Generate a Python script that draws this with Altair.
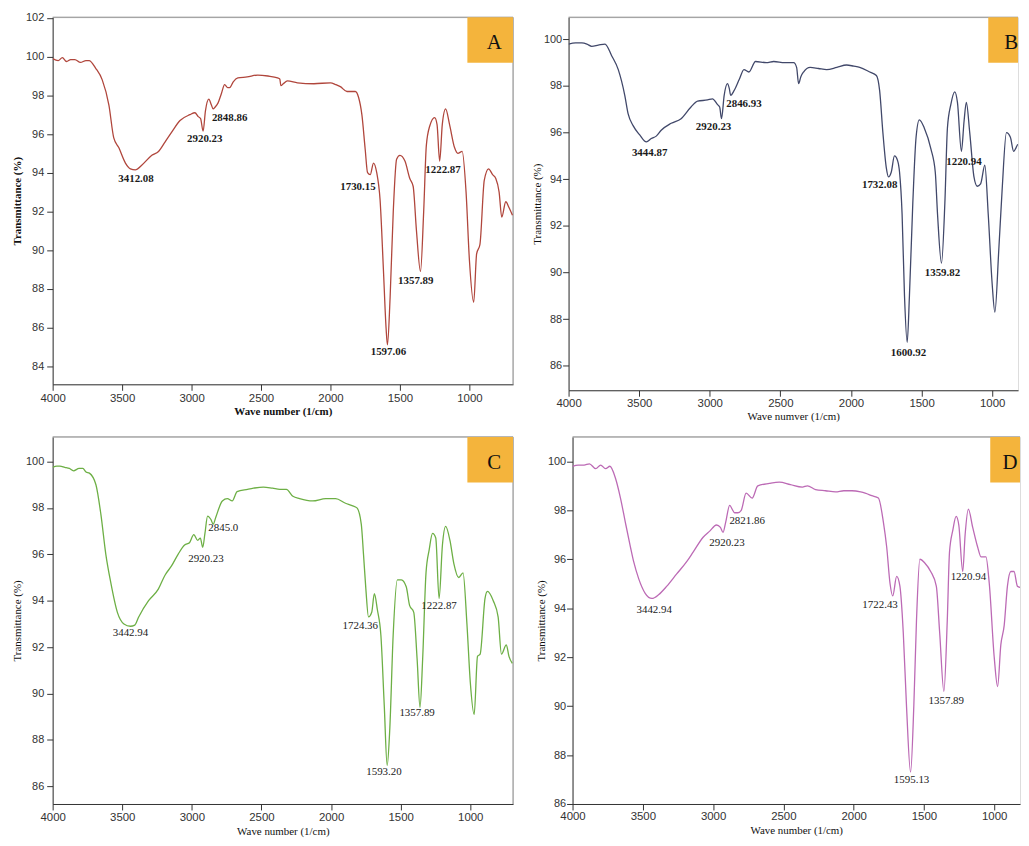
import math
import altair as alt
import pandas as pd

SERIF = "Liberation Serif"
SANS = "Liberation Sans"

# ---------------- Panel A ----------------
A_wn = [4000, 3960, 3930, 3900, 3870, 3840, 3800, 3760, 3738, 3690, 3643, 3595, 3560, 3524, 3476, 3440, 3405,
        3357, 3286, 3238, 3190, 3143, 3083, 3012, 2976, 2952, 2935, 2917, 2900, 2876, 2857, 2845, 2830, 2810,
        2785, 2762, 2740, 2726, 2700, 2667, 2600, 2524, 2450, 2381, 2365, 2357, 2340, 2310, 2238, 2119, 2000,
        1960, 1929, 1881, 1821, 1798, 1774, 1750, 1733, 1714, 1690, 1667, 1643, 1619, 1600, 1590, 1571, 1548,
        1524, 1500, 1464, 1429, 1405, 1381, 1352, 1329, 1310, 1286, 1250, 1233, 1214, 1195, 1171, 1143, 1107,
        1083, 1052, 1024, 1000, 969, 948, 924, 893, 862, 833, 810, 786, 767, 738, 715, 690]
A_T = [99.9, 99.8, 99.95, 99.75, 99.85, 99.85, 99.7, 99.8, 99.8, 99.4, 98.8, 97.5, 95.8, 95.3, 94.5, 94.2, 94.15,
       94.4, 94.9, 95.1, 95.6, 96.1, 96.7, 97.0, 97.1, 96.9, 96.8, 96.15, 97.2, 97.8, 97.5, 97.3, 97.4, 97.6,
       98.1, 98.55, 98.4, 98.4, 98.7, 98.9, 98.95, 99.05, 99.0, 98.9, 98.85, 98.5, 98.6, 98.75, 98.65, 98.6, 98.65,
       98.55, 98.45, 98.2, 98.2, 97.9, 97.0, 95.2, 94.0, 93.9, 94.5, 94.0, 92.6, 89.0, 86.0, 85.1, 87.5, 92.0,
       94.7, 94.9, 94.6, 93.7, 93.3, 91.0, 88.9, 92.0, 95.4, 96.4, 96.85, 96.5, 94.6, 96.5, 97.3, 96.5, 95.3,
       95.0, 95.1, 93.0, 89.5, 87.3, 89.8, 90.3, 93.6, 94.2, 93.9, 93.7, 93.0, 91.7, 92.5, 92.2, 91.8]
A_lab = ["3412.08", "2920.23", "2848.86", "1730.15", "1597.06", "1357.89", "1222.87"]
A_lab_wn = [3400, 2905, 2726, 1802, 1583, 1386, 1190]
A_lab_T = [93.67, 95.73, 96.84, 93.28, 84.74, 88.41, 94.15]

# ---------------- Panel B ----------------
B_wn = [4000, 3950, 3906, 3870, 3836, 3790, 3742, 3695, 3648, 3602, 3578, 3543, 3496, 3449, 3414, 3379, 3344,
        3273, 3203, 3133, 3086, 3016, 2981, 2945, 2930, 2917, 2898, 2875, 2862, 2852, 2828, 2790, 2758, 2723,
        2676, 2600, 2547, 2470, 2406, 2385, 2371, 2355, 2336, 2289, 2230, 2172, 2100, 2031, 1980, 1938, 1867,
        1820, 1797, 1774, 1750, 1734, 1715, 1692, 1670, 1656, 1638, 1621, 1602, 1586, 1562, 1539, 1516, 1481,
        1434, 1403, 1387, 1359, 1335, 1317, 1293, 1265, 1246, 1218, 1199, 1183, 1159, 1129, 1106, 1082, 1052,
        1028, 1000, 981, 953, 930, 899, 871, 848, 835, 817, 789, 766]
B_T = [99.8, 99.85, 99.85, 99.8, 99.7, 99.75, 99.8, 99.3, 98.7, 97.6, 96.8, 96.3, 95.9, 95.6, 95.75, 95.85, 96.1,
       96.4, 96.6, 97.1, 97.35, 97.4, 97.45, 97.2, 97.1, 96.6, 97.6, 98.1, 97.9, 97.6, 97.8, 98.3, 98.7, 98.6,
       99.05, 99.0, 99.05, 99.0, 99.0, 98.8, 98.1, 98.4, 98.6, 98.8, 98.75, 98.7, 98.8, 98.9, 98.85, 98.8, 98.6,
       98.45, 97.8, 96.0, 94.5, 94.1, 94.3, 95.0, 94.8, 94.3, 92.5, 89.0, 87.0, 89.0, 93.0, 95.8, 96.55, 96.2,
       95.3, 94.3, 92.5, 90.4, 93.0, 96.2, 97.2, 97.75, 97.3, 95.2, 96.5, 97.3, 96.0, 94.1, 93.7, 93.8, 94.6,
       92.5, 89.5, 88.3, 91.0, 93.5, 96.0, 95.8, 95.2, 95.3, 95.5, 95.0, 94.2]
B_lab = ["3444.87", "2920.23", "2846.93", "1732.08", "1600.92", "1359.82", "1220.94"]
B_lab_wn = [3426, 2973, 2758, 1797, 1593, 1352, 1200]
B_lab_T = [95.12, 96.24, 97.21, 93.76, 86.54, 89.97, 94.75]

# ---------------- Panel C ----------------
C_wn = [4000, 3970, 3948, 3913, 3880, 3850, 3810, 3783, 3760, 3736, 3689, 3653, 3618, 3583, 3535, 3488, 3441,
        3410, 3382, 3311, 3241, 3193, 3146, 3099, 3052, 3017, 2986, 2958, 2939, 2922, 2906, 2887, 2863, 2847,
        2828, 2781, 2745, 2710, 2675, 2600, 2557, 2486, 2420, 2368, 2321, 2274, 2226, 2132, 2038, 1967, 1896,
        1849, 1814, 1783, 1767, 1750, 1731, 1708, 1689, 1667, 1642, 1618, 1597, 1578, 1554, 1524, 1495, 1460,
        1436, 1406, 1382, 1361, 1342, 1318, 1295, 1271, 1248, 1224, 1200, 1177, 1146, 1118, 1083, 1052, 1024,
        1000, 972, 948, 929, 894, 877, 835, 800, 776, 741, 722, 698]
C_T = [99.75, 99.8, 99.8, 99.75, 99.7, 99.6, 99.7, 99.7, 99.55, 99.5, 99.0, 97.7, 96.0, 94.8, 93.5, 93.0, 92.9,
       92.95, 93.3, 94.0, 94.5, 95.1, 95.5, 96.0, 96.4, 96.5, 96.85, 96.6, 96.7, 96.3, 96.9, 97.65, 97.5, 97.3,
       97.6, 98.3, 98.4, 98.3, 98.7, 98.8, 98.85, 98.9, 98.85, 98.8, 98.8, 98.5, 98.4, 98.3, 98.4, 98.4, 98.2,
       98.1, 98.0, 97.3, 96.0, 94.5, 93.3, 93.5, 94.3, 93.6, 92.5, 89.5, 86.9, 88.5, 92.5, 94.9, 94.9, 94.6,
       93.8, 93.5, 91.5, 89.4, 91.5, 95.2, 96.2, 96.9, 96.7, 94.1, 96.4, 97.2, 96.6, 95.6, 95.0, 95.2, 93.0,
       90.5, 89.1, 91.6, 91.7, 94.1, 94.4, 94.0, 93.3, 91.7, 92.1, 91.6, 91.3]
C_lab = ["3442.94", "2920.23", "2845.0", "1724.36", "1593.20", "1357.89", "1222.87"]
C_lab_wn = [3441, 2899, 2774, 1790, 1620, 1382, 1224]
C_lab_T = [92.6, 95.81, 97.15, 92.91, 86.6, 89.14, 93.77]

# ---------------- Panel D ----------------
D_wn = [4000, 3960, 3918, 3880, 3835, 3800, 3765, 3734, 3694, 3659, 3624, 3588, 3565, 3529, 3482, 3435, 3388,
        3329, 3259, 3188, 3141, 3071, 3024, 2976, 2948, 2929, 2911, 2882, 2860, 2847, 2824, 2800, 2765, 2722,
        2682, 2600, 2529, 2450, 2365, 2329, 2271, 2200, 2129, 2070, 2012, 1950, 1918, 1871, 1824, 1788, 1765,
        1741, 1722, 1694, 1671, 1647, 1624, 1595, 1572, 1553, 1529, 1494, 1452, 1412, 1388, 1358, 1334, 1318,
        1294, 1271, 1252, 1224, 1207, 1184, 1153, 1118, 1094, 1059, 1035, 1000, 976, 953, 929, 906, 882, 859,
        835, 800, 776, 765]
D_T = [99.8, 99.85, 99.85, 99.9, 99.7, 99.85, 99.7, 99.8, 99.3, 98.5, 97.5, 96.5, 95.9, 95.2, 94.6, 94.4, 94.55,
       94.9, 95.4, 95.9, 96.3, 96.9, 97.15, 97.4, 97.3, 97.1, 97.5, 98.2, 98.0, 97.9, 97.9, 98.0, 98.7, 98.5,
       99.0, 99.1, 99.15, 99.05, 98.95, 99.0, 98.85, 98.8, 98.75, 98.8, 98.8, 98.75, 98.7, 98.6, 98.5, 97.5, 96.5,
       95.0, 94.5, 95.3, 94.9, 93.0, 90.0, 87.3, 90.0, 93.5, 96.0, 95.85, 95.5, 94.9, 93.0, 90.6, 93.5, 96.3,
       97.2, 97.75, 97.4, 95.5, 97.0, 98.05, 97.3, 96.5, 96.1, 96.1, 95.0, 92.0, 90.8, 92.5, 93.3, 94.9, 95.5, 95.5,
       94.9, 94.8, 93.8, 93.3]
D_lab = ["3442.94", "2920.23", "2821.86", "1722.43", "1595.13", "1357.89", "1220.94"]
D_lab_wn = [3419, 2901, 2758, 1812, 1588, 1341, 1184]
D_lab_T = [93.94, 96.66, 97.55, 94.12, 86.96, 90.2, 95.29]

BOX = "#F4B43C"


def make_panel(wn, tr, labs, lab_wn, lab_t, color, letter, xdom, ydom, w, h, bold, anno_bold,
               xtitle, ytitle, right_frame, box_w, letter_x,
               ytitle_pad, ylabel_pad, xtitle_pad, xlabel_pad, anno_size):
    weight = "bold" if bold else "normal"
    df = pd.DataFrame({"wn": wn, "T": tr})
    pk = pd.DataFrame({"wn": lab_wn, "T": lab_t, "label": labs})
    one = pd.DataFrame({"k": [0]})
    xvals = [v for v in range(4000, 600, -250) if min(xdom) <= v <= max(xdom)]
    y0 = int(math.ceil(ydom[0]))
    if y0 % 2:
        y0 += 1  # start on an even (labelled) value
    yvals = [v for v in range(y0, 104) if v <= ydom[1]]
    xs = alt.Scale(domain=xdom, nice=False, zero=False)
    ys = alt.Scale(domain=ydom, nice=False, zero=False)
    x_axis = alt.Axis(
        values=xvals, format="d",
        labelExpr="datum.value % 500 === 0 ? datum.label : ''",
        labelFlush=False, labelOverlap=False, grid=False,
        tickSize={"condition": {"test": "datum.value % 500 === 0", "value": 6}, "value": 4},
        tickColor="#333", domainColor="#333", tickWidth=1, domainWidth=1,
        labelFont=SANS, labelFontSize=11.5, labelColor="#333", labelPadding=xlabel_pad,
        title=xtitle, titleFont=SERIF, titleFontSize=11, titleFontWeight=weight,
        titleColor="#111", titlePadding=xtitle_pad)
    y_axis = alt.Axis(
        values=yvals, format="d",
        labelExpr="datum.value % 2 === 0 ? datum.label : ''",
        labelFlush=False, labelOverlap=False, grid=False,
        tickSize={"condition": {"test": "datum.value % 2 === 0", "value": 6}, "value": 3},
        tickColor="#333", domainColor="#333", tickWidth=1, domainWidth=1,
        labelFont=SANS, labelFontSize=11, labelColor="#333", labelPadding=ylabel_pad,
        title=ytitle, titleFont=SERIF, titleFontSize=11, titleFontWeight=weight,
        titleColor="#111", titlePadding=ytitle_pad)

    line = alt.Chart(df).mark_line(color=color, strokeWidth=1.3, clip=True,
                                   interpolate="monotone").encode(
        x=alt.X("wn:Q", scale=xs, axis=x_axis),
        y=alt.Y("T:Q", scale=ys, axis=y_axis),
    )
    text = alt.Chart(pk).mark_text(font=SERIF, fontSize=anno_size,
                                   fontWeight="bold" if anno_bold else "normal",
                                   color="#1a1a1a", align="center", baseline="middle").encode(
        x=alt.X("wn:Q", scale=xs), y=alt.Y("T:Q", scale=ys), text="label:N")
    top_rule = alt.Chart(one).mark_rule(color="#8a8a8a", strokeWidth=1).encode(
        x=alt.value(0), x2=alt.value(w), y=alt.value(0))
    layers = [top_rule]
    if right_frame:
        layers.append(alt.Chart(one).mark_rule(color="#8a8a8a", strokeWidth=1).encode(
            x=alt.value(w), y=alt.value(0), y2=alt.value(h)))
    box = alt.Chart(one).mark_rect(color=BOX).encode(
        x=alt.value(w - box_w), x2=alt.value(w), y=alt.value(0), y2=alt.value(46))
    let = alt.Chart(one).mark_text(font=SERIF, fontSize=21, color="#111",
                                   align="center", baseline="middle").encode(
        x=alt.value(letter_x), y=alt.value(26), text=alt.value(letter))
    layers += [line, text, box, let]
    return alt.layer(*layers).properties(width=w, height=h)


pA = make_panel(A_wn, A_T, A_lab, A_lab_wn, A_lab_T, "#B0463C", "A",
                [4000, 686], [83.06, 102.04], 464, 370, True, True,
                "Wave number (1/cm)", "Transmittance (%)", True, 46, 445,
                3, 3, 2, 2, 11)
pB = make_panel(B_wn, B_T, B_lab, B_lab_wn, B_lab_T, "#41486A", "B",
                [4000, 817], [84.95, 100.95], 453, 376, False, True,
                "Wave numver (1/cm)", "Transmittance (%)", False, 30, 446,
                1, 1, 2, 1, 11)
pC = make_panel(C_wn, C_T, C_lab, C_lab_wn, C_lab_T, "#6DAF45", "C",
                [4000, 693], [85.24, 101.06], 464, 370, False, False,
                "Wave number (1/cm)", "Transmittance (%)", True, 46, 445,
                3, 3, 2, 2, 11)
pD = make_panel(D_wn, D_T, D_lab, D_lab_wn, D_lab_T, "#BC6AB5", "D",
                [4000, 816.5], [86, 101.0], 451, 370, False, False,
                "Wave number (1/cm)", "Transmittance (%)", False, 30, 441,
                1, 1, 2, 1, 11)

top = alt.hconcat(pA, pB, spacing=17)
bot = alt.hconcat(pC, pD, spacing=21)
chart = alt.vconcat(top, bot, spacing=14).properties(
    padding={"left": 3, "top": 0, "right": 0, "bottom": 0}
).configure_view(stroke=None).configure(background="white")

chart.save("out.html", embed_options={"renderer": "svg", "actions": False})
